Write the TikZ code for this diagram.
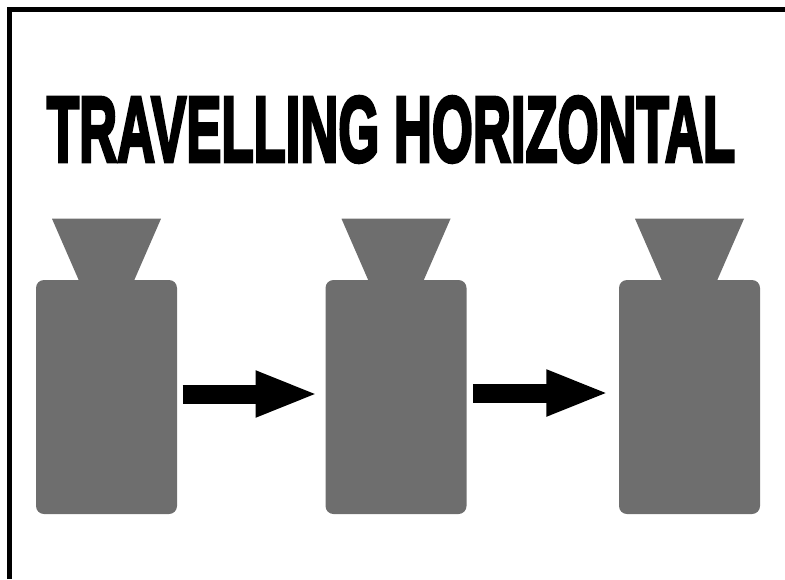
\documentclass[tikz,border=0pt]{standalone}
\usepackage{graphicx}
\usepackage{xcolor}
\usepackage{fontspec}
\usepackage{tikz}
\usetikzlibrary{arrows.meta,positioning,calc}
\newfontfamily\titlefont[FakeBold=4]{Liberation Sans Bold}
\definecolor{bottle}{RGB}{110,110,110}

\begin{document}
\begin{tikzpicture}[x=0.75pt, y=-0.75pt,
  body/.style={fill=bottle, rounded corners=6pt, minimum width=105.75pt, minimum height=175.5pt, inner sep=0pt},
  arr/.style={line width=14.25pt, -{Triangle[length=47.25pt, width=31.5pt]}}]
\useasboundingbox (0,0) rectangle (785,579);
\draw[line width=3.75pt] (9.5,579) -- (9.5,9.5) -- (785,9.5);
\node (title) at (391,129.5) {\resizebox{516pt}{48.75pt}{\titlefont TRAVELLING HORIZONTAL}};
\node[body] (b1) at (106.5,397) {};
\node[body] (b2) at (396,397) {};
\node[body] (b3) at (689.5,397) {};
\fill[bottle] ($(b1.north)+(-27.5,1)$) -- ($(b1.north)+(-54.5,-61)$) -- ($(b1.north)+(54.5,-61)$) -- ($(b1.north)+(27.5,1)$) -- cycle;
\fill[bottle] ($(b2.north)+(-27.5,1)$) -- ($(b2.north)+(-54.5,-61)$) -- ($(b2.north)+(54.5,-61)$) -- ($(b2.north)+(27.5,1)$) -- cycle;
\fill[bottle] ($(b3.north)+(-27.5,1)$) -- ($(b3.north)+(-54.5,-61)$) -- ($(b3.north)+(54.5,-61)$) -- ($(b3.north)+(27.5,1)$) -- cycle;
\draw[arr, shorten <=4pt, shorten >=5pt] ([yshift=2.25pt]b1.east) -- ([yshift=2.25pt]b2.west);
\draw[arr, shorten <=4.5pt, shorten >=7pt] ([yshift=3pt]b2.east) -- ([yshift=3pt]b3.west);
\end{tikzpicture}
\end{document}
